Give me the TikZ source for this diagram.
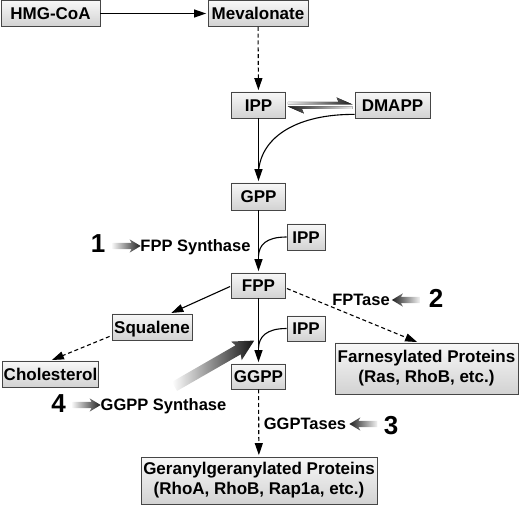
\documentclass[tikz,border=0pt]{standalone}
\usepackage{fontspec}
\setmainfont{Liberation Sans}
\usetikzlibrary{positioning,calc,arrows.meta,shapes.arrows}

\tikzset{
  box/.style={draw=gray!55!black, line width=0.8pt, top color=gray!6, bottom color=gray!35,
    font=\bfseries\fontsize{17}{20}\selectfont, inner sep=0pt},
  mol/.style={box, text height=12.2pt, text depth=0pt},
  prot/.style={box, align=center},
  enz/.style={font=\bfseries\fontsize{16.5}{20}\selectfont, inner sep=0pt, text height=11.9pt, text depth=0pt},
  num/.style={font=\bfseries\fontsize{26}{26}\selectfont, inner sep=0pt, text height=18.5pt, text depth=0pt},
  conv/.style={-{Triangle[length=12pt,width=8pt]}, line width=1.1pt, shorten >=1.5pt},
  dconv/.style={conv, dash pattern=on 4pt off 2.8pt},
  link/.style={line width=1.1pt},
  garrow/.style={single arrow, draw=none, inner xsep=0pt, inner ysep=3pt, minimum height=28pt,
    single arrow head extend=3.5pt, single arrow tip angle=62, single arrow head indent=2pt},
}

\begin{document}
\begin{tikzpicture}[x=1pt, y=1pt]
        \useasboundingbox (0,0) rectangle (520,-505);

        % Metabolites
        \node[mol, minimum width=99pt, minimum height=26pt] (hmg) at (50.5,-13.5) {HMG-CoA};
        \node[mol, minimum width=100pt, minimum height=26pt] (meva) at (258,-13.5) {Mevalonate};
        \node[mol, minimum width=54pt, minimum height=26pt] (ipp) at (258.5,-105) {IPP};
        \node[mol, minimum width=75pt, minimum height=26pt] (dmapp) at (392.5,-105) {DMAPP};
        \node[mol, minimum width=54pt, minimum height=27pt] (gpp) at (258.5,-196.5) {GPP};
        \node[mol, minimum width=38pt, minimum height=26pt] (ipptwo) at (306,-237) {IPP};
        \node[mol, minimum width=54pt, minimum height=25pt] (fpp) at (258.5,-285.5) {FPP};
        \node[mol, minimum width=80pt, minimum height=26pt] (squal) at (152,-327) {Squalene};
        \node[mol, minimum width=96pt, minimum height=26pt] (chol) at (50.5,-374) {Cholesterol};
        \node[mol, minimum width=38pt, minimum height=25pt] (ippthree) at (306,-328.5) {IPP};
        \node[mol, minimum width=54pt, minimum height=25pt] (ggpp) at (258.5,-376.5) {GGPP};

        % Prenylated proteins
        \node[prot, minimum width=183pt, minimum height=51pt] (farn) at (426.5,-368.5)
          {Farnesylated Proteins\\(Ras, RhoB, etc.)};
        \node[prot, minimum width=236pt, minimum height=47pt] (gger) at (259,-480.5)
          {Geranylgeranylated Proteins\\(RhoA, RhoB, Rap1a, etc.)};

        % Merge points
        \coordinate (mone) at (258.5,-172);
        \coordinate (mtwo) at (258.5,-256);
        \coordinate (mthree) at (258.5,-348);

        % Main pathway
        \draw[conv] (hmg) -- (meva);
        \draw[dconv] (meva) -- (ipp);
        \draw[conv] (ipp) -- (gpp);
        \draw[link] ($(dmapp.south west)+(0,4)$) .. controls (300,-114) and (261,-135) .. (mone);
        \draw[conv] (gpp) -- (fpp);
        \draw[link] (ipptwo.west) .. controls (266,-237) and (259,-245) .. (mtwo);
        \draw[conv] (fpp) -- (ggpp);
        \draw[link] (ippthree.west) .. controls (266,-328.5) and (259,-337) .. (mthree);
        \draw[dconv] (ggpp) -- (gger);

        % Branches
        \draw[conv] ($(fpp.west)+(-1,-1)$) -- ($(squal.north)+(18,0)$);
        \draw[dconv] ($(squal.south west)+(-2,4)$) -- (chol.north);
        \draw[dconv] ($(fpp.east)+(1,-3)$) -- ($(farn.north)+(-8,0)$);

        % IPP <-> DMAPP
        \fill[left color=gray!15, right color=gray!20!black]
          ($(ipp.east)+(2,0.5)$) -- ($(dmapp.west)+(-2,0.5)$) -- ($(dmapp.west)+(-18,7.5)$)
          -- ($(dmapp.west)+(-16,3)$) -- ($(ipp.east)+(2,3)$) -- cycle;
        \fill[left color=gray!20!black, right color=gray!15]
          ($(dmapp.west)+(-2,-1.5)$) -- ($(ipp.east)+(2,-1.5)$) -- ($(ipp.east)+(18,-8.5)$)
          -- ($(ipp.east)+(16,-4)$) -- ($(dmapp.west)+(-2,-4)$) -- cycle;

        % Enzymes and inhibitor sites
        \node[enz] (fppsyn) at (195.5,-246) {FPP Synthase};
        \node[garrow, left color=gray!10, right color=gray!25!black] (gaone) at (124,-246) {};
        \node[num] (none) at (98,-243.5) {1};

        \node[enz] (fptase) at (361,-300) {FPTase};
        \node[garrow, shape border rotate=180, left color=gray!25!black, right color=gray!10] (gatwo) at (408.5,-300) {};
        \node[num] (ntwo) at (436,-298.5) {2};

        \node[enz] (ggptase) at (305,-424) {GGPTases};
        \node[garrow, shape border rotate=180, left color=gray!25!black, right color=gray!10] (gathree) at (366,-424) {};
        \node[num] (nthree) at (391,-425) {3};

        \node[enz] (ggppsyn) at (163.5,-405) {GGPP Synthase};
        \node[garrow, left color=gray!10, right color=gray!25!black] (gafour) at (84,-405) {};
        \node[num] (nfour) at (58.5,-403.5) {4};

        % GGPP synthase acting on the FPP -> GGPP step
        \node[garrow, minimum height=92pt, inner ysep=5pt, single arrow head extend=5.5pt,
          single arrow tip angle=55, rotate=29.9, left color=white, right color=gray!15!black] (bigarrow) at (210,-366) {};
\end{tikzpicture}
\end{document}
